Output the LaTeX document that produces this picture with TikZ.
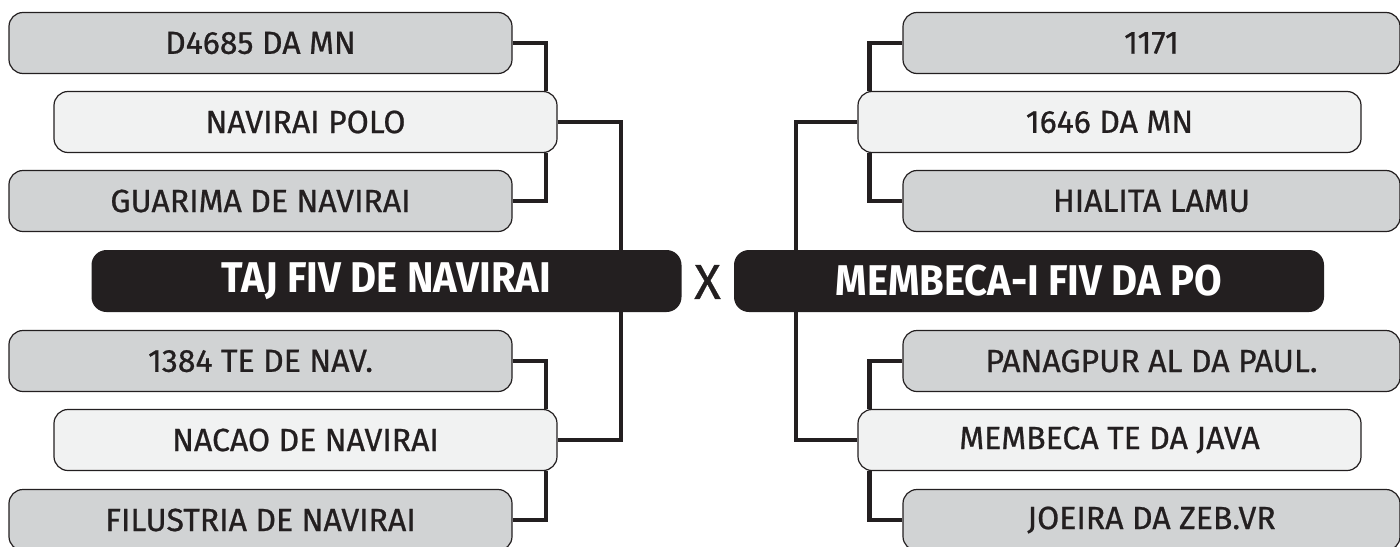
\documentclass[tikz,border=0pt]{standalone}
\usepackage{fontspec}
\setmainfont{Fira Sans}
\newfontfamily\labelfont{Fira Sans}[FakeBold=0.7]
\newfontfamily\finalfont{Fira Sans Bold}[FakeStretch=0.93]
\usepackage{xcolor}
\usepackage{tikz}
\usetikzlibrary{calc}

\definecolor{ink}{HTML}{231F20}
\definecolor{boxgray}{HTML}{D1D3D4}
\definecolor{boxlight}{HTML}{F1F2F2}

\begin{document}
\begin{tikzpicture}[x=0.5pt,y=-0.5pt,
    club/.style={draw=ink,line width=0.6pt,rounded corners=7pt,minimum width=251.5pt,
      minimum height=30.5pt,inner sep=0pt,text=ink,font=\labelfont\fontsize{16}{16}\selectfont},
    lower/.style={club,fill=boxgray},
    upper/.style={club,fill=boxlight},
    final/.style={fill=ink,rounded corners=7.5pt,minimum width=295pt,minimum height=31pt,
      inner sep=0pt,text=white,font=\finalfont\fontsize{21.5}{21.5}\selectfont},
    wire/.style={draw=ink,line width=2.1pt}]
  \useasboundingbox (0,0) rectangle (1400,546);
  \clip (0,0) rectangle (1400,546);

  \node[lower] (l1) at (260.5,43) {D4685 DA MN};
  \node[upper] (l2) at (305.5,122) {NAVIRAI POLO};
  \node[lower] (l3) at (260.5,201) {GUARIMA DE NAVIRAI};
  \node[final] (taj) at (386.5,281) {TAJ FIV DE NAVIRAI};
  \node[lower] (l4) at (260.5,361) {1384 TE DE NAV.};
  \node[upper] (l5) at (305.5,440) {NACAO DE NAVIRAI};
  \node[lower] (l6) at (260.5,520) {FILUSTRIA DE NAVIRAI};

  \node[lower,minimum width=248.5pt] (r1) at (1151.5,43) {1171};
  \node[upper] (r2) at (1109.5,122) {1646 DA MN};
  \node[lower,minimum width=248.5pt] (r3) at (1151.5,201) {HIALITA LAMU};
  \node[final] (mem) at (1029,281) {MEMBECA-I FIV DA PO};
  \node[lower,minimum width=248.5pt] (r4) at (1151.5,361) {PANAGPUR AL DA PAUL.};
  \node[upper] (r5) at (1109.5,440) {MEMBECA TE DA JAVA};
  \node[lower,minimum width=248.5pt] (r6) at (1151.5,520) {JOEIRA DA ZEB.VR};

  \node[text=ink,font=\labelfont\fontsize{24.5}{24.5}\selectfont] (vs) at (707.5,282) {X};

  \draw[wire] (l1.east) -| ($(l2.north east)+(-12,0)$);
  \draw[wire] ($(l2.south east)+(-12,0)$) |- (l3.east);
  \draw[wire] (l4.east) -| ($(l5.north east)+(-12,0)$);
  \draw[wire] ($(l5.south east)+(-12,0)$) |- (l6.east);
  \draw[wire] (l2.east) -| ($(taj.north east)+(-61,0)$);
  \draw[wire] ($(taj.south east)+(-61,0)$) |- (l5.east);

  \draw[wire] (r1.west) -| ($(r2.north west)+(12,0)$);
  \draw[wire] ($(r2.south west)+(12,0)$) |- (r3.west);
  \draw[wire] (r4.west) -| ($(r5.north west)+(12,0)$);
  \draw[wire] ($(r5.south west)+(12,0)$) |- (r6.west);
  \draw[wire] (r2.west) -| ($(mem.north west)+(62,0)$);
  \draw[wire] ($(mem.south west)+(62,0)$) |- (r5.west);
\end{tikzpicture}
\end{document}
